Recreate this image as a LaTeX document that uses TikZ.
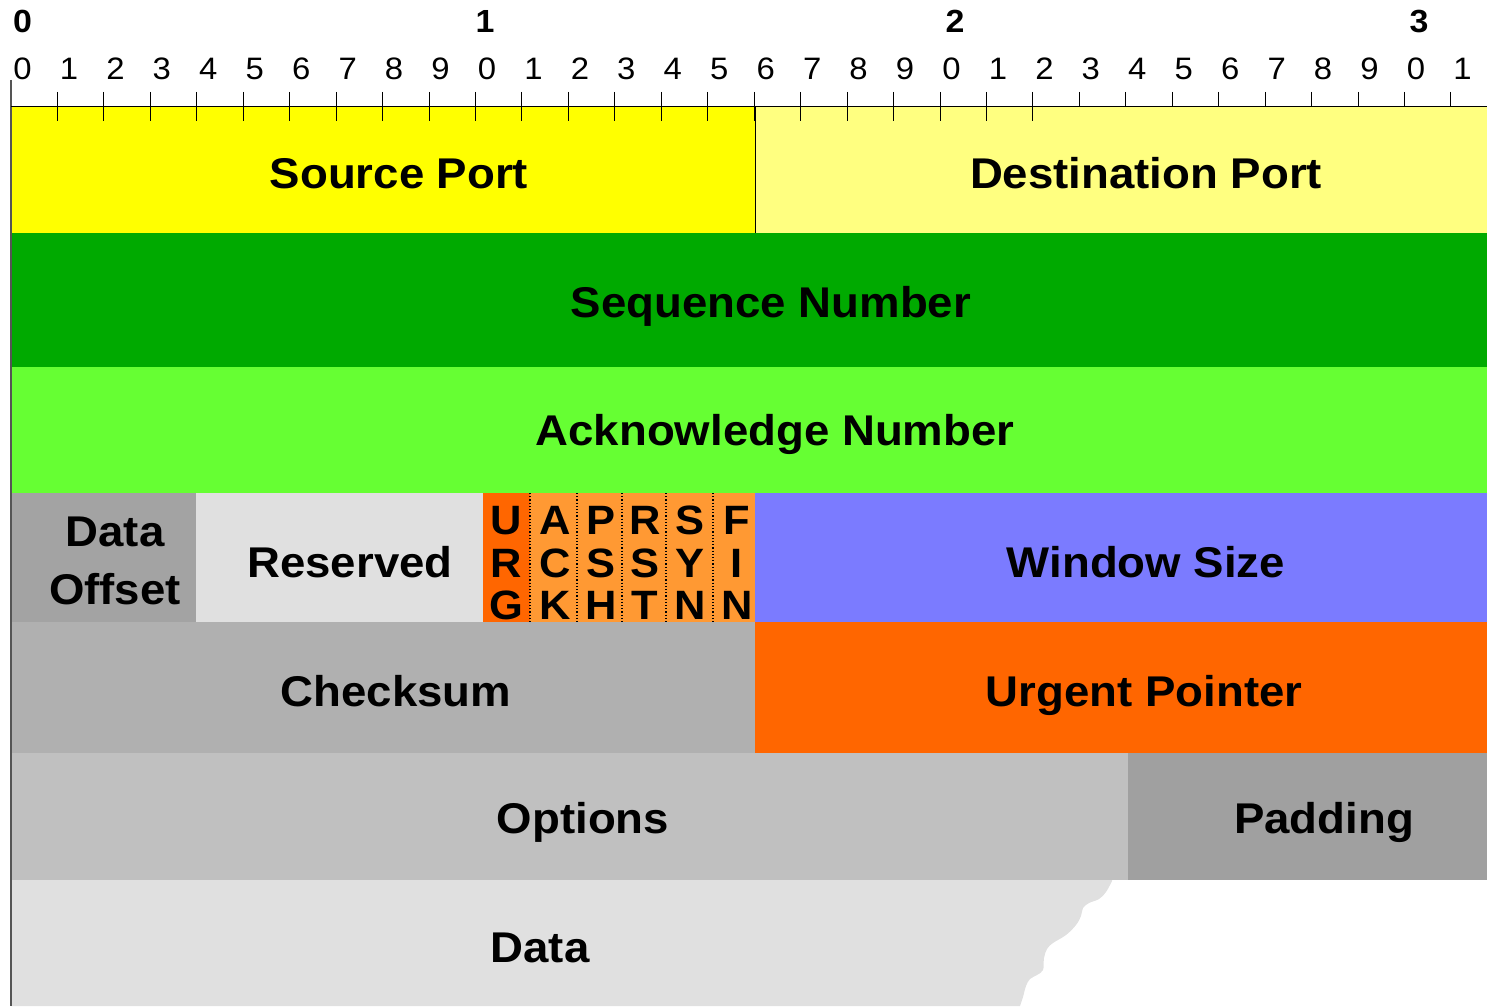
\documentclass[tikz,border=0pt]{standalone}
\usepackage{fontspec}
\setmainfont{Liberation Sans}[FakeStretch=1.06]
\definecolor{cSrc}{HTML}{FFFF00}
\definecolor{cDst}{HTML}{FFFF80}
\definecolor{cSeq}{HTML}{00AA00}
\definecolor{cAck}{HTML}{66FF33}
\definecolor{cOff}{HTML}{A3A3A3}
\definecolor{cRes}{HTML}{E0E0E0}
\definecolor{cUrg}{HTML}{FF6600}
\definecolor{cFlg}{HTML}{FF9933}
\definecolor{cWin}{HTML}{7B7BFF}
\definecolor{cChk}{HTML}{B0B0B0}
\definecolor{cOpt}{HTML}{C0C0C0}
\definecolor{cPad}{HTML}{A0A0A0}
\definecolor{cDat}{HTML}{E0E0E0}
\definecolor{cAxis}{HTML}{555555}
\begin{document}
\begin{tikzpicture}[x=1pt,y=-1pt,
  lbl/.style={font=\fontsize{43}{43}\selectfont\bfseries, inner sep=0pt, anchor=base},
  flg/.style={font=\fontsize{41}{41}\selectfont\bfseries, inner sep=0pt, anchor=base},
  dig/.style={font=\fontsize{31}{31}\selectfont, inner sep=0pt, anchor=base},
  dec/.style={font=\fontsize{32}{32}\selectfont\bfseries, inner sep=0pt, anchor=base},
  tick/.style={black, line width=1pt},
  sep/.style={black, line width=1.2pt, dotted}]
\useasboundingbox (0,0) rectangle (1487,1006);

% ---- header fields ----
\fill[cSrc] (11,107) rectangle (755,233);
\fill[cDst] (755,107) rectangle (1487,233);
\fill[cSeq] (11,233) rectangle (1487,367);
\fill[cAck] (11,367) rectangle (1487,493);
\fill[cOff] (11,493) rectangle (196,622);
\fill[cRes] (196,493) rectangle (483,622);
\fill[cUrg] (483,493) rectangle (530,622);
\fill[cFlg] (530,493) rectangle (755,622);
\fill[cWin] (755,493) rectangle (1487,622);
\fill[cChk] (11,622) rectangle (755,753);
\fill[cUrg] (755,622) rectangle (1487,753);
\fill[cOpt] (11,753) rectangle (1128,880);
\fill[cPad] (1128,753) rectangle (1487,880);
% data block with a torn right edge
\fill[cDat] (11,880) -- (1112,880)
  -- plot[smooth, tension=0.6] coordinates {(1112,881) (1106,892) (1099,899) (1089,903)
     (1083,908) (1081,916) (1076,925) (1066,935) (1053,943) (1047,949) (1044,958)
     (1043,970) (1037,975) (1030,979) (1026,986) (1023,997) (1020,1006)}
  -- (11,1006) -- cycle;

% boundary between the two ports
\draw[black, line width=1pt] (755,107) -- (755,233);

% flag separators
\foreach \x in {530,577,622,666,713}
  \draw[sep] (\x,493) -- (\x,622);

% ---- bit ruler ----
\draw[cAxis, line width=2pt] (11,80) -- (11,1006);
\draw[black, line width=1pt] (11,107) -- (1487,107);
\foreach \i in {1,...,31} {
  \pgfmathsetmacro{\tx}{11+46.45*\i}
  \ifnum\i<23
    \draw[tick] (\tx,92) -- (\tx,121);
  \else
    \draw[tick] (\tx,92) -- (\tx,107);
  \fi
}
\foreach \i in {0,...,31} {
  \pgfmathsetmacro{\tx}{11+46.45*\i+11.5}
  \pgfmathtruncatemacro{\d}{mod(\i,10)}
  \node[dig] (bit\i) at (\tx,80) {\d};
}
\foreach \i/\x in {0/22.5,1/485,2/955,3/1419} {
  \node[dec] (dec\i) at (\x,33) {\i};
}

% ---- field labels ----
\node[lbl] (srcport) at (399,188) {Source Port};
\node[lbl] (dstport) at (1146,188) {Destination Port};
\node[lbl] (seqnum) at (771,317) {Sequence Number};
\node[lbl] (acknum) at (775,445) {Acknowledge Number};
\node[lbl] (offA) at (115,546) {Data};
\node[lbl] (offB) at (115,604) {Offset};
\node[lbl] (reserved) at (350,577) {Reserved};
\node[lbl] (window) at (1146,577) {Window Size};
\node[lbl] (checksum) at (396,706) {Checksum};
\node[lbl] (urgptr) at (1144,706) {Urgent Pointer};
\node[lbl] (options) at (583,833) {Options};
\node[lbl] (padding) at (1324,833) {Padding};
\node[lbl] (data) at (540,962) {Data};

% ---- control flags, one letter per line ----
\foreach \x/\a/\b/\c [count=\k] in {506/U/R/G, 555/A/C/K, 601/P/S/H, 645/R/S/T, 690/S/Y/N, 737/F/I/N} {
  \node[flg] (flag\k a) at (\x,534) {\a};
  \node[flg] (flag\k b) at (\x,577) {\b};
  \node[flg] (flag\k c) at (\x,619) {\c};
}
\end{tikzpicture}
\end{document}
